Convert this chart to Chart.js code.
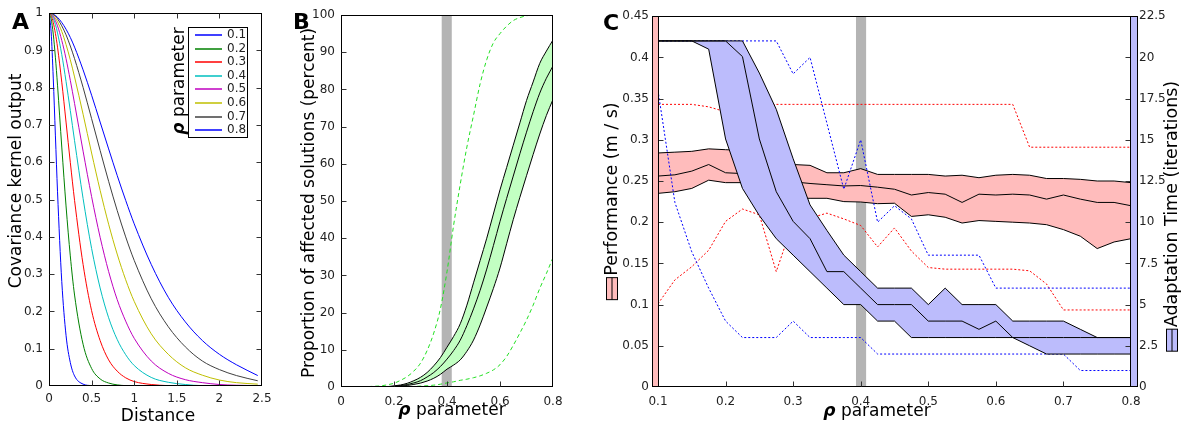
<!DOCTYPE html>
<html lang="en">
<head>
<meta charset="UTF-8">
<title>Kernel width, affected solutions and adaptation</title>
<style>
  body { margin: 0; background: #fff; }
  #wrap { position: relative; width: 1187px; height: 430px; }
  canvas { position: absolute; top: 0; }
  #chartA { left: 0; }
  #chartB { left: 290px; }
  #chartC { left: 580px; }
</style>
</head>
<body>
<div id="wrap">
  <canvas id="chartA" width="290" height="430"></canvas>
  <canvas id="chartB" width="290" height="430"></canvas>
  <canvas id="chartC" width="607" height="430"></canvas>
</div>

<script src="https://cdn.jsdelivr.net/npm/chart.js@4.4.0/dist/chart.umd.min.js"></script>
<script>
// ---------- panel A: covariance kernel for each rho ----------
const distA = [0, 0.025, 0.05, 0.075, 0.1, 0.15, 0.2, 0.25, 0.3, 0.4, 0.5, 0.6, 0.7, 0.8, 0.9, 1.0, 1.2, 1.4, 1.6, 1.8, 2.0, 2.2, 2.45];
const kern01 = [1, 0.950, 0.826, 0.673, 0.521, 0.280, 0.136, 0.063, 0.027, 0.005, 0.001, 0, 0, 0, 0, 0, 0, 0, 0, 0, 0, 0, 0];
const kern02 = [1, 0.985, 0.944, 0.882, 0.807, 0.641, 0.483, 0.349, 0.244, 0.112, 0.047, 0.019, 0.008, 0.003, 0.001, 0, 0, 0, 0, 0, 0, 0, 0];
const kern03 = [1, 0.994, 0.975, 0.946, 0.909, 0.815, 0.708, 0.600, 0.498, 0.326, 0.202, 0.122, 0.070, 0.040, 0.022, 0.012, 0.004, 0.001, 0, 0, 0, 0, 0];
const kern04 = [1, 0.997, 0.986, 0.970, 0.947, 0.889, 0.817, 0.739, 0.658, 0.503, 0.369, 0.263, 0.183, 0.125, 0.084, 0.055, 0.023, 0.010, 0.004, 0.001, 0.001, 0, 0];
const kern05 = [1, 0.998, 0.992, 0.980, 0.966, 0.927, 0.878, 0.820, 0.758, 0.630, 0.508, 0.399, 0.307, 0.232, 0.174, 0.128, 0.067, 0.034, 0.017, 0.009, 0.004, 0.002, 0.001];
const kern06 = [1, 0.999, 0.994, 0.987, 0.977, 0.951, 0.916, 0.875, 0.829, 0.729, 0.625, 0.525, 0.434, 0.354, 0.285, 0.227, 0.140, 0.085, 0.049, 0.029, 0.016, 0.009, 0.005];
const kern07 = [1, 0.999, 0.996, 0.992, 0.985, 0.966, 0.942, 0.912, 0.878, 0.801, 0.717, 0.632, 0.549, 0.471, 0.400, 0.337, 0.234, 0.159, 0.105, 0.067, 0.044, 0.028, 0.014];
const kern08 = [1, 0.999, 0.997, 0.994, 0.989, 0.975, 0.957, 0.935, 0.909, 0.848, 0.780, 0.708, 0.636, 0.565, 0.498, 0.435, 0.326, 0.238, 0.172, 0.122, 0.085, 0.057, 0.028];
const rhoLabels = ['0.1', '0.2', '0.3', '0.4', '0.5', '0.6', '0.7', '0.8'];
const tickDistA = [0, 0.5, 1, 1.5, 2, 2.5];
const tickKernA = [0, 0.1, 0.2, 0.3, 0.4, 0.5, 0.6, 0.7, 0.8, 0.9, 1];

// ---------- panel B: proportion of affected solutions ----------
const rhoB = [0.05, 0.075, 0.1, 0.125, 0.15, 0.175, 0.2, 0.225, 0.25, 0.275, 0.3, 0.325, 0.35, 0.375, 0.4, 0.425,
              0.45, 0.475, 0.5, 0.525, 0.55, 0.575, 0.6, 0.625, 0.65, 0.675, 0.7, 0.725, 0.75, 0.775, 0.8];
const affHi = [0, 0, 0, 0, 0.05, 0.1, 0.3, 0.55, 1, 1.7, 2.6, 3.9, 5.7, 7.9, 10.7, 13.6, 17, 22, 28, 34, 40, 46.5, 53, 59, 65, 71, 77, 82, 87, 90.3, 93.3];
const affMid = [0, 0, 0, 0, 0, 0.05, 0.2, 0.4, 0.65, 1.1, 1.7, 2.7, 3.9, 5.5, 7.5, 9.8, 12.6, 16.5, 21, 26, 31.7, 38, 44.5, 50.7, 56.7, 62.7, 68.5, 74, 79, 83, 86.3];
const affLo = [0, 0, 0, 0, 0, 0, 0.1, 0.25, 0.4, 0.7, 1.05, 1.6, 2.35, 3.4, 4.8, 5.9, 7.3, 9.6, 12.6, 16.7, 21.5, 26.5, 32, 38.5, 45, 51, 56.8, 62.5, 68, 73, 77.3];
const affMax = [0, 0, 0.1, 0.2, 0.3, 0.6, 1, 1.8, 2.8, 4.3, 6.4, 9.8, 14.5, 21, 31, 43.5, 54.5, 64.5, 73, 81.5, 88, 92.5, 95, 97, 98.5, 99.3, 99.8, 100, 100, 100, 100];
const affMin = [0, 0, 0, 0, 0, 0, 0, 0.05, 0.1, 0.15, 0.25, 0.35, 0.5, 0.75, 1.1, 1.4, 1.8, 2.1, 2.5, 3, 3.7, 4.6, 6, 8.2, 11.2, 14.5, 18, 22, 26.5, 30.5, 34.8];
const tickRhoB = [0, 0.2, 0.4, 0.6, 0.8];
const tickPctB = [0, 10, 20, 30, 40, 50, 60, 70, 80, 90, 100];

// ---------- panel C: performance (left) and adaptation time (right) ----------
const rhoC = [0.1, 0.125, 0.15, 0.175, 0.2, 0.225, 0.25, 0.275, 0.3, 0.325, 0.35, 0.375, 0.4, 0.425, 0.45,
              0.475, 0.5, 0.525, 0.55, 0.575, 0.6, 0.625, 0.65, 0.675, 0.7, 0.725, 0.75, 0.775, 0.8];
const perfHi = [0.284, 0.285, 0.286, 0.289, 0.288, 0.287, 0.282, 0.276, 0.270, 0.269, 0.260, 0.260, 0.265, 0.258, 0.258,
                0.258, 0.258, 0.256, 0.257, 0.254, 0.257, 0.258, 0.257, 0.253, 0.253, 0.252, 0.250, 0.250, 0.248];
const perfMid = [0.256, 0.2575, 0.262, 0.270, 0.260, 0.259, 0.255, 0.251, 0.249, 0.247, 0.2455, 0.244, 0.2445, 0.2425, 0.240,
                 0.233, 0.236, 0.234, 0.224, 0.234, 0.233, 0.234, 0.233, 0.228, 0.233, 0.228, 0.224, 0.224, 0.220];
const perfLo = [0.235, 0.237, 0.241, 0.251, 0.248, 0.248, 0.240, 0.233, 0.229, 0.229, 0.229, 0.225, 0.2245, 0.2225, 0.223,
                0.207, 0.209, 0.206, 0.199, 0.202, 0.201, 0.200, 0.199, 0.197, 0.191, 0.183, 0.168, 0.176, 0.180];
const perfMax = [0.343, 0.343, 0.343, 0.340, 0.334, 0.336, 0.341, 0.343, 0.343, 0.343, 0.343, 0.343, 0.343, 0.343, 0.343,
                 0.343, 0.343, 0.343, 0.343, 0.343, 0.343, 0.343, 0.291, 0.291, 0.291, 0.291, 0.291, 0.291, 0.291];
const perfMin = [0.101, 0.130, 0.146, 0.166, 0.201, 0.216, 0.209, 0.140, 0.200, 0.205, 0.211, 0.204, 0.196, 0.170, 0.193,
                 0.165, 0.145, 0.143, 0.143, 0.143, 0.143, 0.143, 0.141, 0.125, 0.0935, 0.0935, 0.0935, 0.0935, 0.0935];
const adaptHi = [21, 21, 21, 21, 21, 21, 19.05, 16.85, 13.85, 11.05, 9.5, 8, 7, 6, 6, 6, 5, 6, 5, 5, 5, 4, 4, 4, 4, 3.5, 3, 3, 3];
const adaptMid = [21, 21, 21, 21, 21, 20.05, 15.05, 11.85, 10.05, 9, 7, 7, 6, 5, 5, 5, 4, 4, 4, 3.5, 4, 3, 2.5, 2, 2, 2, 2, 2, 2];
const adaptLo = [21, 21, 21, 20.5, 15.05, 12.05, 10.4, 9, 8, 7, 6, 5, 5, 4, 4, 3, 3, 3, 3, 3, 3, 3, 3, 3, 3, 3, 3, 3, 3];
const adaptMax = [21, 21, 21, 21, 21, 21, 21, 21, 19, 20, 16, 12, 15, 10, 11, 10.2, 8, 8, 8, 8, 6, 6, 6, 6, 6, 6, 6, 6, 6];
const adaptMin = [18, 11.2, 8.2, 6, 4, 3, 3, 3, 4, 3, 3, 3, 3, 2, 2, 2, 2, 2, 2, 2, 2, 2, 2, 2, 2, 1, 1, 1, 1];
const tickRhoC = [0.1, 0.2, 0.3, 0.4, 0.5, 0.6, 0.7, 0.8];
const tickPerfC = [0, 0.05, 0.1, 0.15, 0.2, 0.25, 0.3, 0.35, 0.4, 0.45];
const tickAdaptC = [0, 2.5, 5, 7.5, 10, 12.5, 15, 17.5, 20, 22.5];

// chosen rho value, shown as a grey marker in B and C
const chosenB = [0.38, 0.418];
const chosenC = [0.393, 0.408];

const FONT = '"DejaVu Sans", sans-serif';
Chart.defaults.font.family = FONT;
Chart.defaults.font.size = 12;
Chart.defaults.color = '#222';

const PINK = '#ffbcbc';
const LILAC = '#bcbcfc';
const MINT = '#c2ffc2';

function pts(xs, ys) { return xs.map((x, i) => ({ x: x, y: ys[i] })); }
function fmt(v) { return String(Math.round(v * 1000) / 1000); }

function axis(min, max, vals, pad, size, extra) {
  return Object.assign({
    type: 'linear', min: min, max: max,
    grid: { display: false, drawTicks: false },
    border: { display: false },
    afterBuildTicks: s => { s.ticks = vals.map(v => ({ value: v })); },
    afterFit: s => { if (s.isHorizontal()) s.height = size; else s.width = size; },
    ticks: { autoSkip: false, maxRotation: 0, padding: pad, callback: fmt }
  }, extra || {});
}

function line(xs, ys, color, extra) {
  return Object.assign({
    data: pts(xs, ys), borderColor: color, borderWidth: 1, pointRadius: 0, fill: false, tension: 0
  }, extra || {});
}

// shaded band: three fill-only sets, then the three black edge lines above them
function band(xs, hi, mid, lo, color, extra, orderFill) {
  const f = Object.assign({ borderWidth: 0, borderColor: 'rgba(0,0,0,0)', backgroundColor: color, order: orderFill }, extra);
  const l = Object.assign({ order: orderFill - 1 }, extra);
  return [
    line(xs, hi, 'rgba(0,0,0,0)', Object.assign({}, f, { fill: '+1' })),
    line(xs, mid, 'rgba(0,0,0,0)', Object.assign({}, f)),
    line(xs, lo, 'rgba(0,0,0,0)', Object.assign({}, f, { fill: '-1' })),
    line(xs, hi, '#000', l),
    line(xs, mid, '#000', l),
    line(xs, lo, '#000', l)
  ];
}

// box around the plot with inward tick marks
function framePlugin(spec) {
  return {
    id: 'frame',
    afterDatasetsDraw(chart) {
      const { ctx, chartArea: a, scales } = chart;
      const L = Math.round(a.left) + 0.5, R = Math.round(a.right) - 0.5;
      const T = Math.round(a.top) + 0.5, B = Math.round(a.bottom) - 0.5;
      ctx.save();
      ctx.lineWidth = 1;
      ctx.strokeStyle = '#000';
      ctx.strokeRect(L, T, R - L, B - T);
      ctx.strokeStyle = '#333';
      ctx.beginPath();
      spec.forEach(([id, side]) => {
        const s = scales[id];
        s.ticks.forEach(t => {
          const p = Math.round(s.getPixelForValue(t.value)) + 0.5;
          if (side === 'bottom' || side === 'top') {
            if (p < L + 2 || p > R - 2) return;
            const y0 = side === 'bottom' ? B : T;
            ctx.moveTo(p, y0); ctx.lineTo(p, side === 'bottom' ? y0 - 5 : y0 + 5);
          } else {
            if (p < T + 2 || p > B - 2) return;
            const x0 = side === 'left' ? L : R;
            ctx.moveTo(x0, p); ctx.lineTo(side === 'left' ? x0 + 5 : x0 - 5, p);
          }
        });
      });
      ctx.stroke();
      ctx.restore();
    }
  };
}

function markerPlugin(range) {
  return {
    id: 'marker',
    beforeDatasetsDraw(chart) {
      const { ctx, chartArea: a, scales: { x } } = chart;
      const x0 = x.getPixelForValue(range[0]), x1 = x.getPixelForValue(range[1]);
      ctx.save();
      ctx.fillStyle = '#b4b4b4';
      ctx.fillRect(x0, a.top, x1 - x0, a.bottom - a.top);
      ctx.restore();
    }
  };
}

function rhoTitle(ctx, x, y, size, rotate) {
  ctx.save();
  ctx.translate(x, y);
  if (rotate) ctx.rotate(-Math.PI / 2);
  const bold = 'bold italic ' + size + 'px ' + FONT, norm = size + 'px ' + FONT;
  ctx.font = bold; const w1 = ctx.measureText('ρ').width;
  ctx.font = norm; const w2 = ctx.measureText(' parameter').width;
  const x0 = -(w1 + w2) / 2;
  ctx.fillStyle = '#000';
  ctx.textAlign = 'left';
  ctx.textBaseline = 'middle';
  ctx.font = bold; ctx.fillText('ρ', x0, 0);
  ctx.font = norm; ctx.fillText(' parameter', x0 + w1, 0);
  ctx.restore();
}

function plainTitle(ctx, text, x, y, size, rotate) {
  ctx.save();
  ctx.translate(x, y);
  if (rotate) ctx.rotate(-Math.PI / 2);
  ctx.font = size + 'px ' + FONT;
  ctx.fillStyle = '#000';
  ctx.textAlign = 'center';
  ctx.textBaseline = 'middle';
  ctx.fillText(text, 0, 0);
  ctx.restore();
}

// rotated axis title with a small swatch in front of it
function swatchTitle(ctx, text, x, y, size, fill) {
  ctx.save();
  ctx.translate(x, y);
  ctx.rotate(-Math.PI / 2);
  ctx.font = size + 'px ' + FONT;
  const tw = ctx.measureText(text).width;
  const pw = 22, ph = 11, gap = 2;
  const x0 = -(pw + gap + tw) / 2;
  ctx.fillStyle = fill;
  ctx.fillRect(x0, -ph / 2, pw, ph);
  ctx.strokeStyle = '#000';
  ctx.lineWidth = 1;
  ctx.strokeRect(x0, -ph / 2, pw, ph);
  ctx.beginPath(); ctx.moveTo(x0, 0); ctx.lineTo(x0 + pw, 0); ctx.stroke();
  ctx.fillStyle = '#000';
  ctx.textAlign = 'left';
  ctx.textBaseline = 'middle';
  ctx.fillText(text, x0 + pw + gap, 0);
  ctx.restore();
}

function panelLetter(ctx, letter, x, y) {
  ctx.save();
  ctx.font = 'bold 22px ' + FONT;
  ctx.fillStyle = '#000';
  ctx.textBaseline = 'alphabetic';
  ctx.fillText(letter, x, y);
  ctx.restore();
}

const baseOpts = {
  responsive: false,
  animation: false,
  plugins: { legend: { display: false }, tooltip: { enabled: false } }
};

// ---------- chart A ----------
const kernA = [kern01, kern02, kern03, kern04, kern05, kern06, kern07, kern08];
const colorsA = ['#0000ff', '#008000', '#ff0000', '#00bfbf', '#bf00bf', '#bfbf00', '#404040', '#0000ff'];

new Chart(document.getElementById('chartA'), {
  type: 'line',
  data: {
    datasets: kernA.map((ys, i) => line(distA, ys, colorsA[i], { label: rhoLabels[i], cubicInterpolationMode: 'monotone' }))
  },
  options: Object.assign({}, baseOpts, {
    layout: { padding: { top: 13, right: 28 } },
    scales: {
      x: axis(0, 2.5, tickDistA, 6, 44),
      y: axis(0, 1, tickKernA, 6, 49)
    }
  }),
  plugins: [
    framePlugin([['x', 'bottom'], ['x', 'top'], ['y', 'left'], ['y', 'right']]),
    {
      id: 'decorA',
      afterDraw(chart) {
        const ctx = chart.ctx;
        const bx = 188, by = 27, bw = 59, bh = 110;
        ctx.save();
        ctx.fillStyle = '#fff';
        ctx.fillRect(bx, by, bw, bh);
        ctx.strokeStyle = '#000';
        ctx.lineWidth = 1;
        ctx.strokeRect(bx + 0.5, by + 0.5, bw, bh);
        ctx.font = '12px ' + FONT;
        ctx.textBaseline = 'middle';
        chart.data.datasets.forEach((d, i) => {
          const y = Math.round(by + 8 + i * 13.6);
          ctx.strokeStyle = colorsA[i];
          ctx.lineWidth = 1.5;
          ctx.beginPath(); ctx.moveTo(bx + 7, y); ctx.lineTo(bx + 34, y); ctx.stroke();
          ctx.fillStyle = '#222';
          ctx.fillText(d.label, bx + 39, y);
        });
        ctx.restore();
        rhoTitle(ctx, 180, 81, 17, true);
        plainTitle(ctx, 'Covariance kernel output', 17, 181, 17, true);
        plainTitle(ctx, 'Distance', 158, 417, 17, false);
        panelLetter(ctx, 'A', 12, 29);
      }
    }
  ]
});

// ---------- chart B ----------
new Chart(document.getElementById('chartB'), {
  type: 'line',
  data: {
    datasets: band(rhoB, affHi, affMid, affLo, MINT, { cubicInterpolationMode: 'monotone' }, 4).concat([
      line(rhoB, affMax, '#22e022', { borderDash: [4, 3], cubicInterpolationMode: 'monotone', order: 1 }),
      line(rhoB, affMin, '#22e022', { borderDash: [4, 3], cubicInterpolationMode: 'monotone', order: 1 })
    ])
  },
  options: Object.assign({}, baseOpts, {
    layout: { padding: { top: 15, right: 27 } },
    scales: {
      x: axis(0, 0.8, tickRhoB, 8, 43),
      y: axis(0, 100, tickPctB, 6, 51)
    }
  }),
  plugins: [
    markerPlugin(chosenB),
    framePlugin([['x', 'bottom'], ['y', 'left']]),
    {
      id: 'decorB',
      afterDraw(chart) {
        const ctx = chart.ctx;
        plainTitle(ctx, 'Proportion of affected solutions (percent)', 20, 203, 17, true);
        rhoTitle(ctx, 162, 411, 17, false);
        panelLetter(ctx, 'B', 3, 29);
      }
    }
  ]
});

// ---------- chart C ----------
new Chart(document.getElementById('chartC'), {
  type: 'line',
  data: {
    datasets: [].concat(
      band(rhoC, perfHi, perfMid, perfLo, PINK, { yAxisID: 'y' }, 10),
      [
        line(rhoC, perfMax, '#ff0000', { yAxisID: 'y', borderDash: [2, 2], order: 8 }),
        line(rhoC, perfMin, '#ff0000', { yAxisID: 'y', borderDash: [2, 2], order: 8 }),
        line(rhoC, adaptMax, '#0000ff', { yAxisID: 'y1', borderDash: [2, 2], order: 7 }),
        line(rhoC, adaptMin, '#0000ff', { yAxisID: 'y1', borderDash: [2, 2], order: 7 })
      ],
      band(rhoC, adaptHi, adaptMid, adaptLo, LILAC, { yAxisID: 'y1' }, 6)
    )
  },
  options: Object.assign({}, baseOpts, {
    layout: { padding: { top: 13 } },
    scales: {
      x: axis(0.1, 0.8, tickRhoC, 8, 43, {}),
      y: axis(0, 0.45, tickPerfC, 9, 78, { position: 'left' }),
      y1: axis(0, 22.5, tickAdaptC, 8, 56, { position: 'right' })
    }
  }),
  plugins: [
    markerPlugin(chosenC),
    framePlugin([['x', 'bottom'], ['y', 'left'], ['y1', 'right']]),
    {
      id: 'decorC',
      afterDraw(chart) {
        const { ctx, chartArea: a } = chart;
        const L = Math.round(a.left), R = Math.round(a.right), T = Math.round(a.top), B = Math.round(a.bottom);
        ctx.save();
        ctx.lineWidth = 1;
        ctx.strokeStyle = '#000';
        ctx.fillStyle = PINK;
        ctx.fillRect(L - 6, T, 6, B - T);
        ctx.strokeRect(L - 6 + 0.5, T + 0.5, 6, B - T - 1);
        ctx.fillStyle = LILAC;
        ctx.fillRect(R, T, 7, B - T);
        ctx.strokeRect(R - 0.5, T + 0.5, 7, B - T - 1);
        ctx.restore();
        swatchTitle(ctx, 'Performance (m / s)', 32, 201, 17.5, PINK);
        swatchTitle(ctx, 'Adaptation Time (iterations)', 592, 216, 17.5, LILAC);
        rhoTitle(ctx, 297, 412, 17, false);
        panelLetter(ctx, 'C', 23, 30);
      }
    }
  ]
});
</script>
</body>
</html>
